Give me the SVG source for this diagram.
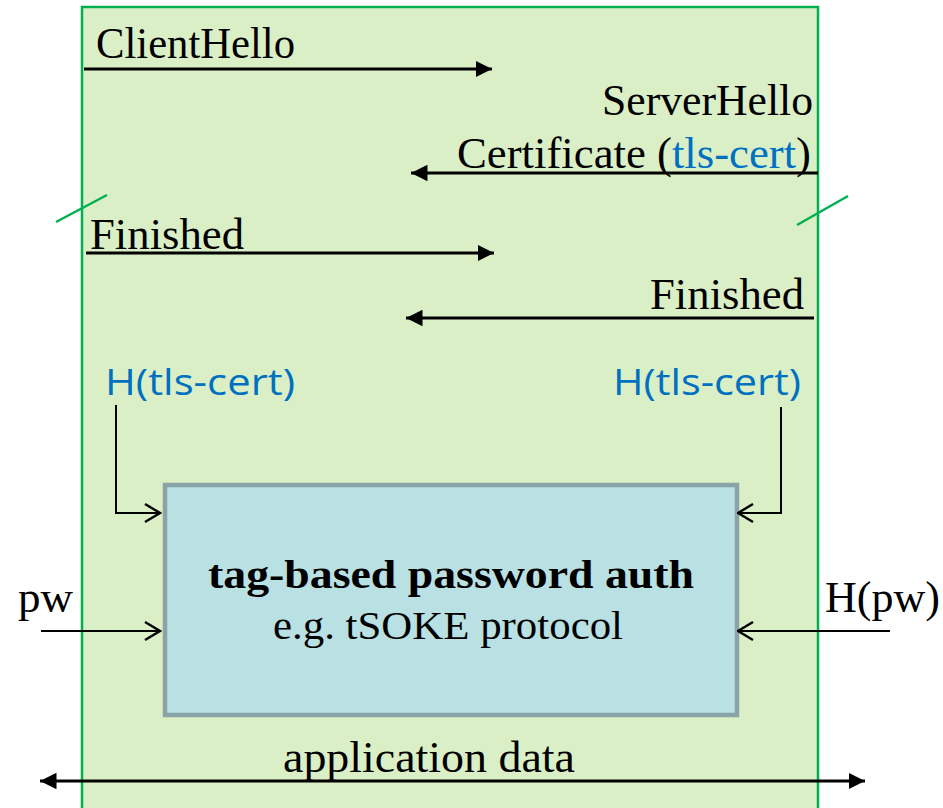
<svg xmlns="http://www.w3.org/2000/svg" width="943" height="808" viewBox="0 0 943 808">
  <style>
    .msg { font-family: "Liberation Serif", "DejaVu Serif", serif; font-size: 44px; fill: #000; }
    .hash { font-family: "Open Sans", "Noto Sans", "Liberation Sans", sans-serif; font-size: 37px; fill: #0070c0; }
    .flow { stroke: #000; stroke-width: 3; fill: none; }
    .feed { stroke: #000; stroke-width: 2; fill: none; }
    .tick { stroke: #00b050; stroke-width: 2.5; }
  </style>
  <defs>
    <marker id="solid" viewBox="0 0 10 10" refX="10" refY="5" markerWidth="5.5" markerHeight="5.5" orient="auto-start-reverse" markerUnits="strokeWidth">
      <path d="M0,0 L10,5 L0,10 Z" fill="#000"/>
    </marker>
    <marker id="open" viewBox="0 0 12 14" refX="11" refY="7" markerWidth="9" markerHeight="10.5" orient="auto" markerUnits="strokeWidth">
      <path d="M1,1 L11,7 L1,13" fill="none" stroke="#000" stroke-width="1.6"/>
    </marker>
  </defs>

  <!-- TLS channel band -->
  <g id="tls-channel">
    <rect x="82" y="7" width="736" height="810" fill="#dbefc6" stroke="#00b050" stroke-width="2.5"/>
    <line class="tick" x1="56" y1="222" x2="107" y2="195"/>
    <line class="tick" x1="797" y1="225" x2="848" y2="196"/>
  </g>

  <!-- Handshake message labels -->
  <g id="client-hello">
    <text class="msg" x="96" y="58" textLength="199" lengthAdjust="spacingAndGlyphs">ClientHello</text>
  </g>
  <g id="server-hello">
    <text class="msg" x="602" y="115" textLength="211" lengthAdjust="spacingAndGlyphs">ServerHello</text>
    <text class="msg" x="457" y="168" textLength="354" lengthAdjust="spacingAndGlyphs">Certificate (<tspan fill="#0070c0">tls-cert</tspan>)</text>
  </g>
  <g id="client-finished">
    <text class="msg" x="90" y="249" textLength="154" lengthAdjust="spacingAndGlyphs">Finished</text>
  </g>
  <g id="server-finished">
    <text class="msg" x="650" y="309" textLength="154" lengthAdjust="spacingAndGlyphs">Finished</text>
  </g>
  <g id="client-hash">
    <text class="hash" x="105" y="395" textLength="190" lengthAdjust="spacingAndGlyphs">H(tls-cert)</text>
  </g>
  <g id="server-hash">
    <text class="hash" x="613" y="395" textLength="188" lengthAdjust="spacingAndGlyphs">H(tls-cert)</text>
  </g>
  <g id="client-pw">
    <text class="msg" x="18" y="612" textLength="55" lengthAdjust="spacingAndGlyphs">pw</text>
  </g>
  <g id="server-hpw">
    <text class="msg" x="825" y="612" textLength="115" lengthAdjust="spacingAndGlyphs">H(pw)</text>
  </g>

  <!-- Password authentication block -->
  <g id="password-auth">
    <rect x="165" y="485" width="572" height="230" fill="#b9e0e3" stroke="#8aa3a6" stroke-width="4.5"/>
    <text x="451" y="588" text-anchor="middle" font-family="Liberation Serif, DejaVu Serif, serif" font-weight="bold" font-size="41" textLength="486" lengthAdjust="spacingAndGlyphs">tag-based password auth</text>
    <text x="448" y="639" text-anchor="middle" font-family="Liberation Serif, DejaVu Serif, serif" font-size="41" textLength="350" lengthAdjust="spacingAndGlyphs">e.g. tSOKE protocol</text>
  </g>

  <g id="app-data">
    <text class="msg" x="283" y="772" textLength="292" lengthAdjust="spacingAndGlyphs">application data</text>
  </g>

  <!-- Connectors -->
  <g id="connectors">
    <line class="flow" x1="84" y1="69" x2="492" y2="69" marker-end="url(#solid)"/>
    <line class="flow" x1="818" y1="173" x2="411" y2="173" marker-end="url(#solid)"/>
    <line class="flow" x1="86" y1="253" x2="494" y2="253" marker-end="url(#solid)"/>
    <line class="flow" x1="814" y1="318" x2="406" y2="318" marker-end="url(#solid)"/>
    <path class="feed" d="M116,405 V513 H160" marker-end="url(#open)"/>
    <path class="feed" d="M781,407 V513 H738" marker-end="url(#open)"/>
    <line class="feed" x1="41" y1="631" x2="160" y2="631" marker-end="url(#open)"/>
    <line class="feed" x1="890" y1="631" x2="738" y2="631" marker-end="url(#open)"/>
    <line class="flow" x1="40" y1="781" x2="865" y2="781" marker-start="url(#solid)" marker-end="url(#solid)"/>
  </g>
</svg>
